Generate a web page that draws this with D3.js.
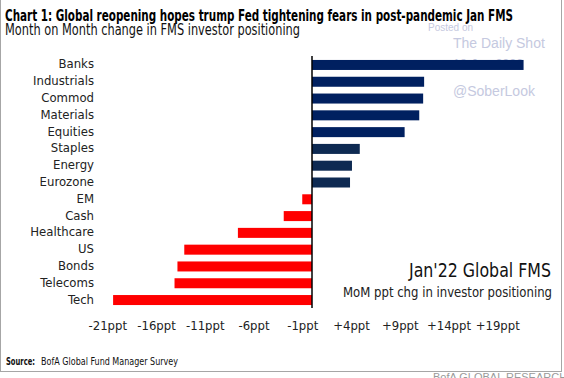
<!DOCTYPE html>
<html><head><meta charset="utf-8">
<script src="https://cdn.jsdelivr.net/npm/d3@7"></script>
<style>
html,body{margin:0;padding:0;background:#fff;}
svg{display:block;}
</style></head>
<body>
<div id="chart"></div>
<script>
const categories = ["Banks","Industrials","Commod","Materials","Equities","Staples","Energy","Eurozone","EM","Cash","Healthcare","US","Bonds","Telecoms","Tech"];
const values = [21.7, 11.5, 11.4, 11.0, 9.5, 4.9, 4.1, 3.9, -1.0, -2.9, -7.6, -13.1, -13.8, -14.1, -20.4];
const groups = ["asset","asset","asset","asset","asset","region","region","region","neg","neg","neg","neg","neg","neg","neg"];
const tickValues = [-21, -16, -11, -6, -1, 4, 9, 14, 19];
const tickLabels = ["-21ppt","-16ppt","-11ppt","-6ppt","-1ppt","+4ppt","+9ppt","+14ppt","+19ppt"];

const W = 564, H = 378;
const svg = d3.select("#chart").append("svg").attr("width", W).attr("height", H);
const cond = '"Liberation Sans Narrow","DejaVu Sans Condensed",sans-serif';

// frame
svg.append("line").attr("x1",0.5).attr("x2",0.5).attr("y1",0).attr("y2",371.5).attr("stroke","#a6a6a6");
svg.append("line").attr("x1",561.5).attr("x2",561.5).attr("y1",0).attr("y2",371.5).attr("stroke","#a6a6a6");
svg.append("line").attr("x1",0).attr("x2",562).attr("y1",371.5).attr("y2",371.5).attr("stroke","#a6a6a6");

// title
svg.append("text").attr("x",5).attr("y",20.5).attr("font-family",cond).attr("font-weight","bold")
  .attr("font-size",16).attr("fill","#000").attr("textLength",508).attr("lengthAdjust","spacingAndGlyphs")
  .text("Chart 1: Global reopening hopes trump Fed tightening fears in post-pandemic Jan FMS");
svg.append("text").attr("x",5).attr("y",35).attr("font-family",cond)
  .attr("font-size",15.5).attr("fill","#111").attr("textLength",295).attr("lengthAdjust","spacingAndGlyphs")
  .text("Month on Month change in FMS investor positioning");

// watermark (behind bars)
const wm = "#c5c9e0";
const wmf = '"Liberation Sans",Arial,sans-serif';
svg.append("text").attr("x",428).attr("y",31).attr("font-family",wmf).attr("font-size",10).attr("fill",wm).text("Posted on");
svg.append("text").attr("x",453).attr("y",48).attr("font-family",wmf).attr("font-size",14).attr("fill",wm).text("The Daily Shot");
svg.append("text").attr("x",453).attr("y",68).attr("font-family",wmf).attr("font-size",12.5).attr("fill",wm).text("18-Jan-2022");
svg.append("text").attr("x",453).attr("y",96).attr("font-family",wmf).attr("font-size",14).attr("fill",wm).text("@SoberLook");

// scales
const x = d3.scaleLinear().domain([-21, 19]).range([107.25, 497.25]);
const y = d3.scaleBand().domain(categories).range([56.6, 308.4]).paddingInner(0.404).paddingOuter(0.2);
const colors = {asset:"#002060", region:"#0e2a52", neg:"#ff0000"};

svg.append("g").selectAll("rect").data(categories).join("rect")
  .attr("x",(d,i)=>Math.min(x(0), x(values[i])))
  .attr("width",(d,i)=>Math.abs(x(values[i]) - x(0)))
  .attr("y",d=>y(d))
  .attr("height",y.bandwidth())
  .attr("fill",(d,i)=>colors[groups[i]]);

// zero line
svg.append("line").attr("x1",x(0)).attr("x2",x(0)).attr("y1",56).attr("y2",308)
  .attr("stroke","#000").attr("stroke-width",1.5);

// category labels
svg.append("g").selectAll("text").data(categories).join("text")
  .attr("x",94).attr("y",d=>y(d)+y.bandwidth()/2+3.5)
  .attr("text-anchor","end").attr("font-family",cond).attr("font-size",13).attr("fill","#222")
  .text(d=>d);

// x axis labels
const ax = d3.axisBottom(x).tickValues(tickValues).tickFormat((d,i)=>tickLabels[i]).tickSize(0).tickPadding(0);
const axg = svg.append("g").attr("transform","translate(0,320.5)").call(ax);
axg.select(".domain").remove();
axg.selectAll("text").attr("font-family",cond).attr("font-size",13).attr("fill","#222").attr("dy","0.75em");

// annotation
svg.append("text").attr("x",551).attr("y",277).attr("text-anchor","end").attr("font-family",cond)
  .attr("font-size",20).attr("fill","#111").attr("textLength",142).attr("lengthAdjust","spacingAndGlyphs")
  .text("Jan'22 Global FMS");
svg.append("text").attr("x",552).attr("y",297).attr("text-anchor","end").attr("font-family",cond)
  .attr("font-size",13.5).attr("fill","#222").attr("textLength",209).attr("lengthAdjust","spacingAndGlyphs")
  .text("MoM ppt chg in investor positioning");

// source
svg.append("text").attr("x",6).attr("y",365).attr("font-family",cond).attr("font-size",11).attr("font-weight","bold")
  .attr("fill","#111").attr("textLength",29).attr("lengthAdjust","spacingAndGlyphs").text("Source:");
svg.append("text").attr("x",41).attr("y",365).attr("font-family",cond).attr("font-size",11)
  .attr("fill","#111").attr("textLength",137).attr("lengthAdjust","spacingAndGlyphs").text("BofA Global Fund Manager Survey");

svg.append("text").attr("x",433).attr("y",381).attr("font-family",wmf).attr("font-size",11).attr("fill","#9a9a9a").text("BofA GLOBAL RESEARCH");
</script>
</body></html>
